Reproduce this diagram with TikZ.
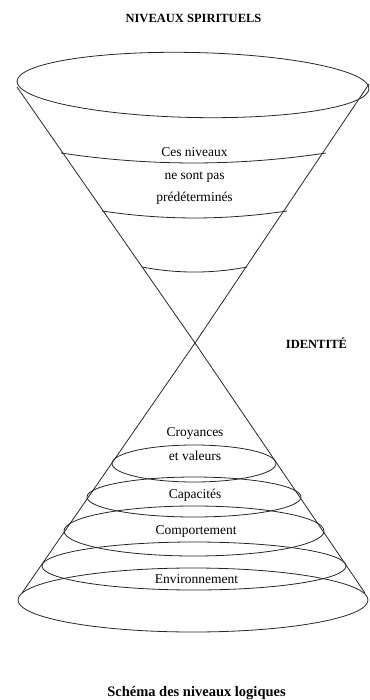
\documentclass[tikz,border=0pt]{standalone}
\usepackage{fontspec}
\setmainfont{Liberation Serif}
\begin{document}
\begin{tikzpicture}[x=1pt,y=-1pt,
  cone/.style={line width=0.8pt,draw=black!85},
  lbl/.style={font=\fontsize{13.5}{16}\selectfont,anchor=base,inner sep=0pt,text=black},
  heading/.style={font=\bfseries\fontsize{12.5}{15}\selectfont,anchor=base,inner sep=0pt,text=black},
  caption/.style={font=\bfseries\fontsize{14.5}{17}\selectfont,anchor=base,inner sep=0pt,text=black}]
\useasboundingbox (0,0) rectangle (369,700);

% key points of the double cone
\coordinate (apex) at (195,343);
\coordinate (UL) at (17,87);
\coordinate (UR) at (369,84);
\coordinate (LL) at (22,593);
\coordinate (LR) at (365,593);

% upper (inverted) cone, its rim slightly tilted
\draw[cone, rotate around={-1.2:(193,85)}] (193,85) ellipse [x radius=176pt, y radius=32.5pt];
\draw[cone] (UL) -- (apex) -- (LR);
\draw[cone] (UR) -- (apex) -- (LL);

% level arcs in the upper cone
\coordinate (a1l) at (61,153);  \coordinate (a1r) at (326,153);
\coordinate (a2l) at (102,211); \coordinate (a2r) at (287,211);
\coordinate (a3l) at (142,267); \coordinate (a3r) at (247,267);
\draw[cone] (a1l) .. controls +(88,13.3) and +(-88,13.3) .. (a1r);
\draw[cone] (a2l) .. controls +(62,9.3) and +(-62,9.3) .. (a2r);
\draw[cone] (a3l) .. controls +(35,6.7) and +(-35,6.7) .. (a3r);

% level rings in the lower cone
\draw[cone] (194,463.5) ellipse [x radius=82pt, y radius=18.5pt];
\draw[cone] (194,497) ellipse [x radius=107pt, y radius=20pt];
\draw[cone] (194,531) ellipse [x radius=130pt, y radius=25pt];
\draw[cone] (194,566) ellipse [x radius=152pt, y radius=24pt];
\draw[cone] (193,600) ellipse [x radius=175pt, y radius=32pt];

% labels
\node[heading] (spirit) at (193.5,22.7) {NIVEAUX SPIRITUELS};
\node[heading] (ident) at (316.5,348) {IDENTITÉ};

\node[lbl] (t1) at (194.5,157) {Ces niveaux};
\node[lbl] (t2) at (194.5,180) {ne sont pas};
\node[lbl] (t3) at (194.5,201.5) {prédéterminés};

\node[lbl] (croy) at (195,436.5) {Croyances};
\node[lbl] (val) at (195,460) {et valeurs};
\node[lbl] (cap) at (195,498) {Capacités};
\node[lbl] (comp) at (196,534) {Comportement};
\node[lbl] (env) at (196.5,583) {Environnement};

\node[caption] (cap0) at (196.5,696) {Schéma des niveaux logiques};
\end{tikzpicture}
\end{document}
